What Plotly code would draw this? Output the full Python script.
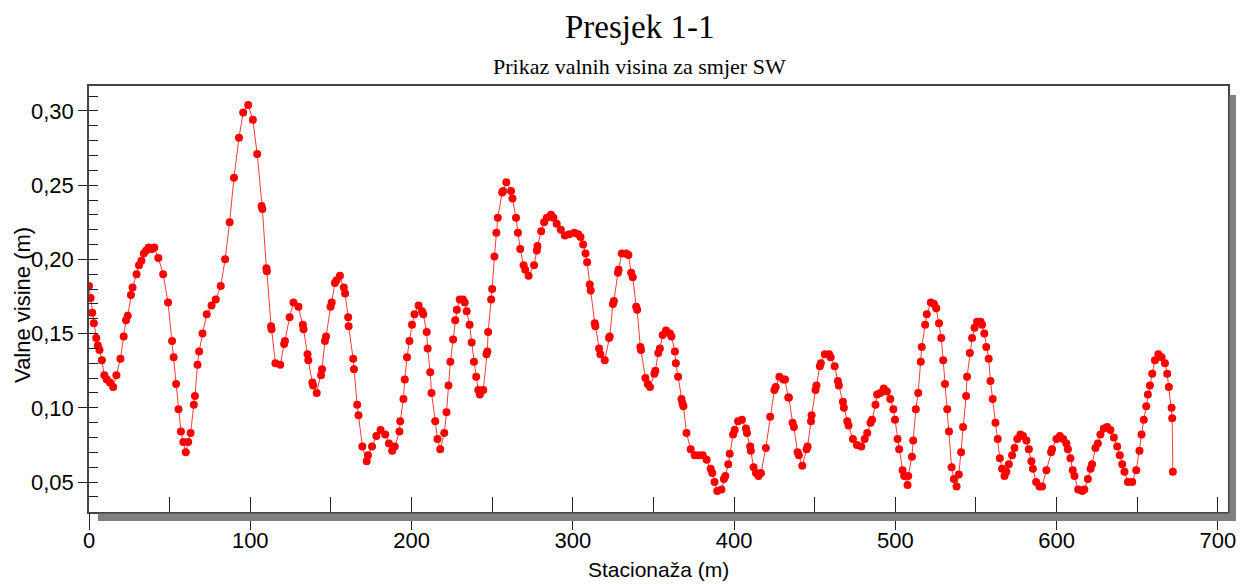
import plotly.graph_objects as go

# Stationing (m) and wave heights (m)
stacionaza = [
    0, 1, 2, 3, 4.5, 5.5, 6.5, 8, 9.5, 11, 13, 15, 17, 19.5, 21.5, 23, 24, 26, 27, 29.5,
    31, 32.5, 34, 35.5, 37, 39, 40.5, 43, 46, 49, 51.5, 52.5, 54, 55.5, 57, 58.5, 60, 61.5, 63, 65,
    65.7, 67.3, 68.3, 70.4, 73, 76, 78.6, 81.7, 84.4, 87.2, 89.9, 93, 95.6, 98.7, 101.6, 104.3, 107, 107.5, 110, 110.3,
    112.9, 113.2, 115.6, 118.6, 121, 121.5, 124.4, 126.8, 129.9, 132.6, 133, 135.5, 136, 138.5, 139, 141.2, 143.9, 144.5, 146.3, 147,
    149.8, 150.5, 152.5, 153.5, 155.6, 158, 158.8, 160.7, 161, 163.8, 164.3, 166.3, 167.1, 169.5, 172.2, 173, 175.5, 178.2, 180.8, 183.7,
    186, 188, 189.6, 192.5, 193, 195, 195.8, 197.2, 198.7, 200.3, 201.8, 204.4, 206.5, 207.3, 209.4, 210, 211.6, 212.4, 214.7, 216.1,
    217.8, 220.3, 221.7, 222.9, 224.1, 225.8, 227.1, 228.1, 229.9, 231.9, 233, 234.2, 236, 237.3, 238.7, 240.1, 241.4, 242.4, 244.5, 246.5,
    247, 247.5, 249.4, 250, 251.4, 252.6, 253.5, 256.2, 256.8, 258.8, 261.7, 262.6, 264.8, 266, 267.4, 269.5, 270.5, 272.6, 276, 277.7,
    278.1, 280.4, 282.2, 283.9, 286.5, 288, 290, 292.6, 295.1, 297.8, 300.9, 303.3, 304.8, 306.4, 307.9, 308.9, 310.5, 311.1, 313.6, 314,
    316.3, 317.1, 319.8, 322.5, 322.9, 324.9, 325.5, 328, 328.4, 330.4, 333.1, 334.5, 336.2, 337.2, 339.3, 339.9, 341.9, 342.3, 345, 346.5,
    347.9, 350.6, 351.2, 353, 354, 355.7, 357.8, 360.2, 361.2, 363.3, 363.9, 365.3, 367.4, 368, 368.6, 370.5, 373.1, 375.6, 378.2, 380.6,
    383, 385.5, 386.5, 387.9, 389.6, 392.2, 393.7, 394.6, 396.4, 397.3, 399.4, 400.4, 402.5, 404.9, 407.4, 408, 410, 410.4, 412.1, 413.6,
    415.2, 416.7, 419.7, 422.4, 425, 425.8, 428.1, 430.6, 431.6, 433.6, 434, 436.3, 437.1, 439.4, 440.2, 442.3, 445, 445.6, 447.7, 448.1,
    450.5, 451.1, 453.2, 453.8, 456.3, 458.9, 459.9, 462.4, 464.4, 465, 467.5, 468.1, 470.2, 471, 473.7, 476.2, 478.9, 481, 482.6, 484.6,
    485.6, 487.7, 488.7, 490.7, 492.8, 494.8, 496.9, 498.8, 499.8, 501.4, 502.4, 504.5, 505.5, 507.6, 508, 510.3, 511.1, 512.7, 514.2, 515.8,
    516.4, 518.5, 519.5, 522, 524, 525.4, 527.1, 528.5, 529.7, 530.8, 532.2, 533.3, 534.9, 536.3, 538, 539.4, 540.8, 542, 543.9, 544.5,
    546.2, 547.6, 549.1, 550.7, 552.8, 553.8, 555.2, 556.4, 557.9, 559, 560.4, 562.1, 563.5, 564.8, 566.2, 567.7, 568.9, 570.4, 572.4, 573.9,
    575.6, 577.6, 579.2, 581.3, 582.8, 584.4, 585.3, 587.3, 589.4, 591, 593.7, 596.6, 597.2, 599.9, 602, 604.1, 606.1, 607, 608.6, 610,
    611.1, 613.4, 615.9, 617.2, 619.4, 621.1, 622, 624.1, 625.6, 627.2, 629.3, 631.4, 633.4, 635.5, 637.6, 639.2, 640.7, 642.1, 644.2, 646.9,
    649.4, 651.4, 652.7, 654.1, 655.6, 656.6, 657.9, 659.3, 661, 663.1, 665.1, 667.2, 668.6, 669.6, 671.3, 671.7, 672.1,
]

valne_visine = [
    0.182, 0.174, 0.164, 0.157, 0.147, 0.142, 0.139, 0.132, 0.122, 0.119, 0.117, 0.114, 0.122, 0.133, 0.148, 0.159, 0.162, 0.176, 0.181, 0.190,
    0.196, 0.199, 0.204, 0.206, 0.208, 0.207, 0.208, 0.201, 0.190, 0.171, 0.145, 0.134, 0.116, 0.099, 0.084, 0.077, 0.070, 0.077, 0.083, 0.102,
    0.108, 0.129, 0.138, 0.150, 0.163, 0.169, 0.173, 0.182, 0.200, 0.225, 0.255, 0.282, 0.299, 0.304, 0.294, 0.271, 0.236, 0.234, 0.194, 0.192,
    0.155, 0.153, 0.130, 0.129, 0.143, 0.145, 0.161, 0.171, 0.168, 0.156, 0.153, 0.136, 0.132, 0.117, 0.115, 0.110, 0.122, 0.126, 0.145, 0.148,
    0.168, 0.171, 0.184, 0.186, 0.189, 0.181, 0.177, 0.161, 0.155, 0.133, 0.126, 0.102, 0.095, 0.074, 0.064, 0.068, 0.074, 0.081, 0.085, 0.082,
    0.076, 0.071, 0.074, 0.084, 0.091, 0.106, 0.119, 0.134, 0.145, 0.156, 0.163, 0.169, 0.165, 0.163, 0.151, 0.140, 0.124, 0.110, 0.091, 0.079,
    0.072, 0.083, 0.097, 0.115, 0.131, 0.146, 0.159, 0.166, 0.173, 0.173, 0.171, 0.165, 0.156, 0.144, 0.131, 0.121, 0.112, 0.109, 0.112, 0.136,
    0.138, 0.151, 0.173, 0.180, 0.202, 0.218, 0.228, 0.245, 0.246, 0.252, 0.246, 0.241, 0.228, 0.218, 0.207, 0.196, 0.193, 0.189, 0.196, 0.206,
    0.209, 0.219, 0.225, 0.228, 0.230, 0.228, 0.224, 0.220, 0.216, 0.217, 0.218, 0.217, 0.215, 0.210, 0.204, 0.198, 0.183, 0.179, 0.157, 0.155,
    0.140, 0.136, 0.132, 0.147, 0.148, 0.170, 0.172, 0.191, 0.193, 0.204, 0.204, 0.203, 0.191, 0.188, 0.168, 0.166, 0.141, 0.139, 0.120, 0.116,
    0.114, 0.123, 0.125, 0.137, 0.140, 0.149, 0.152, 0.150, 0.148, 0.138, 0.130, 0.121, 0.106, 0.103, 0.101, 0.083, 0.072, 0.068, 0.068, 0.068,
    0.065, 0.059, 0.056, 0.050, 0.044, 0.045, 0.052, 0.054, 0.062, 0.069, 0.082, 0.085, 0.091, 0.092, 0.086, 0.083, 0.074, 0.071, 0.060, 0.056,
    0.054, 0.056, 0.073, 0.094, 0.112, 0.114, 0.121, 0.119, 0.119, 0.107, 0.107, 0.090, 0.087, 0.070, 0.068, 0.061, 0.072, 0.074, 0.091, 0.095,
    0.112, 0.115, 0.128, 0.130, 0.136, 0.136, 0.134, 0.128, 0.118, 0.115, 0.104, 0.100, 0.091, 0.088, 0.079, 0.075, 0.074, 0.079, 0.083, 0.090,
    0.092, 0.102, 0.109, 0.110, 0.113, 0.111, 0.106, 0.099, 0.092, 0.079, 0.072, 0.058, 0.054, 0.048, 0.054, 0.067, 0.078, 0.099, 0.110, 0.131,
    0.141, 0.156, 0.163, 0.171, 0.170, 0.167, 0.157, 0.147, 0.132, 0.116, 0.099, 0.084, 0.060, 0.052, 0.047, 0.055, 0.070, 0.087, 0.108, 0.121,
    0.137, 0.147, 0.154, 0.158, 0.158, 0.156, 0.150, 0.141, 0.133, 0.118, 0.106, 0.090, 0.079, 0.066, 0.059, 0.054, 0.057, 0.062, 0.068, 0.073,
    0.079, 0.082, 0.081, 0.078, 0.072, 0.064, 0.059, 0.050, 0.047, 0.047, 0.058, 0.070, 0.072, 0.079, 0.081, 0.079, 0.076, 0.072, 0.066, 0.058,
    0.054, 0.045, 0.044, 0.045, 0.052, 0.059, 0.062, 0.073, 0.076, 0.082, 0.086, 0.087, 0.085, 0.080, 0.074, 0.068, 0.062, 0.057, 0.050, 0.050,
    0.058, 0.071, 0.082, 0.092, 0.101, 0.109, 0.115, 0.123, 0.132, 0.136, 0.134, 0.130, 0.123, 0.114, 0.100, 0.093, 0.057,
]

title_text = "Presjek 1-1"
subtitle_text = "Prikaz valnih visina za smjer SW"
x_title = "Stacionaža (m)"
y_title = "Valne visine (m)"

X_RANGE = [0, 706.3]
Y_RANGE = [0.0298, 0.3168]

fig = go.Figure()
fig.add_trace(go.Scatter(
    x=stacionaza, y=valne_visine, mode="lines+markers",
    line=dict(color="#ff3a3a", width=1),
    marker=dict(color="#ff0000", size=8, line=dict(width=0)),
    showlegend=False, hoverinfo="x+y",
))

axis_font = dict(family="Liberation Sans, Arial, sans-serif", size=22, color="#000")

# the page places the figure 8 px in from the top-left corner, so the figure
# is 8 px smaller than the window and the margins are shifted accordingly
fig.update_layout(
    width=1236, height=576,
    margin=dict(l=81, r=8, t=78, b=72),
    paper_bgcolor="white", plot_bgcolor="white",
    separators=",.",
    xaxis=dict(
        range=X_RANGE, tick0=0, dtick=100, ticks="outside", ticklen=16, tickwidth=1,
        tickcolor="#222", showgrid=False, zeroline=False, ticklabelstandoff=-8,
        showline=True, mirror=True, linecolor="#444", linewidth=1.5,
        tickfont=axis_font,
    ),
    yaxis=dict(
        range=Y_RANGE, tick0=0.05, dtick=0.05, tickformat=".2f", ticks="outside",
        ticklen=9, tickwidth=1, tickcolor="#222", showgrid=False, zeroline=False,
        showline=True, mirror=True, linecolor="#444", linewidth=1.5,
        tickfont=axis_font,
    ),
    xaxis2=dict(
        overlaying="x", anchor="y", side="bottom", range=X_RANGE, tick0=0, dtick=50,
        ticks="inside", ticklen=15, tickwidth=1, tickcolor="#222",
        showticklabels=False, showgrid=False, zeroline=False, showline=False,
    ),
    yaxis2=dict(
        overlaying="y", anchor="x", side="left", range=Y_RANGE, tick0=0.0, dtick=0.01,
        ticks="inside", ticklen=9, tickwidth=1, tickcolor="#222",
        showticklabels=False, showgrid=False, zeroline=False, showline=False,
    ),
)

# a transparent copy of the series so that the overlay tick axes get drawn
fig.add_trace(go.Scatter(
    x=stacionaza, y=valne_visine, xaxis="x2", yaxis="y2", mode="markers",
    marker=dict(opacity=0), showlegend=False, hoverinfo="skip",
))

# drop shadow of the plot frame
shadow = "#808080"
fig.add_shape(type="rect", xref="paper", yref="paper",
              x0=9 / 1147, x1=1 + 9 / 1147, y0=-9 / 426, y1=-1.5 / 426,
              fillcolor=shadow, line=dict(width=0), layer="above")
fig.add_shape(type="rect", xref="paper", yref="paper",
              x0=1 + 1.5 / 1147, x1=1 + 9 / 1147, y0=-9 / 426, y1=1 - 9 / 426,
              fillcolor=shadow, line=dict(width=0), layer="above")

serif = "Liberation Serif, Times New Roman, serif"
sans = "Liberation Sans, Arial, sans-serif"
fig.add_annotation(text=title_text, xref="paper", yref="paper", x=0.483, y=1.138,
                   showarrow=False, font=dict(family=serif, size=33, color="#000"),
                   xanchor="center", yanchor="middle")
fig.add_annotation(text=subtitle_text, xref="paper", yref="paper", x=0.483, y=1.045,
                   showarrow=False, font=dict(family=serif, size=22, color="#000"),
                   xanchor="center", yanchor="middle")
fig.add_annotation(text=x_title, xref="paper", yref="paper", x=0.5, y=-0.136,
                   showarrow=False, font=dict(family=sans, size=21, color="#000"),
                   xanchor="center", yanchor="middle")
fig.add_annotation(text=y_title, xref="paper", yref="paper", x=-0.058, y=0.486,
                   showarrow=False, textangle=-90,
                   font=dict(family=sans, size=22, color="#000"),
                   xanchor="center", yanchor="middle")

fig.write_html("out.html")
